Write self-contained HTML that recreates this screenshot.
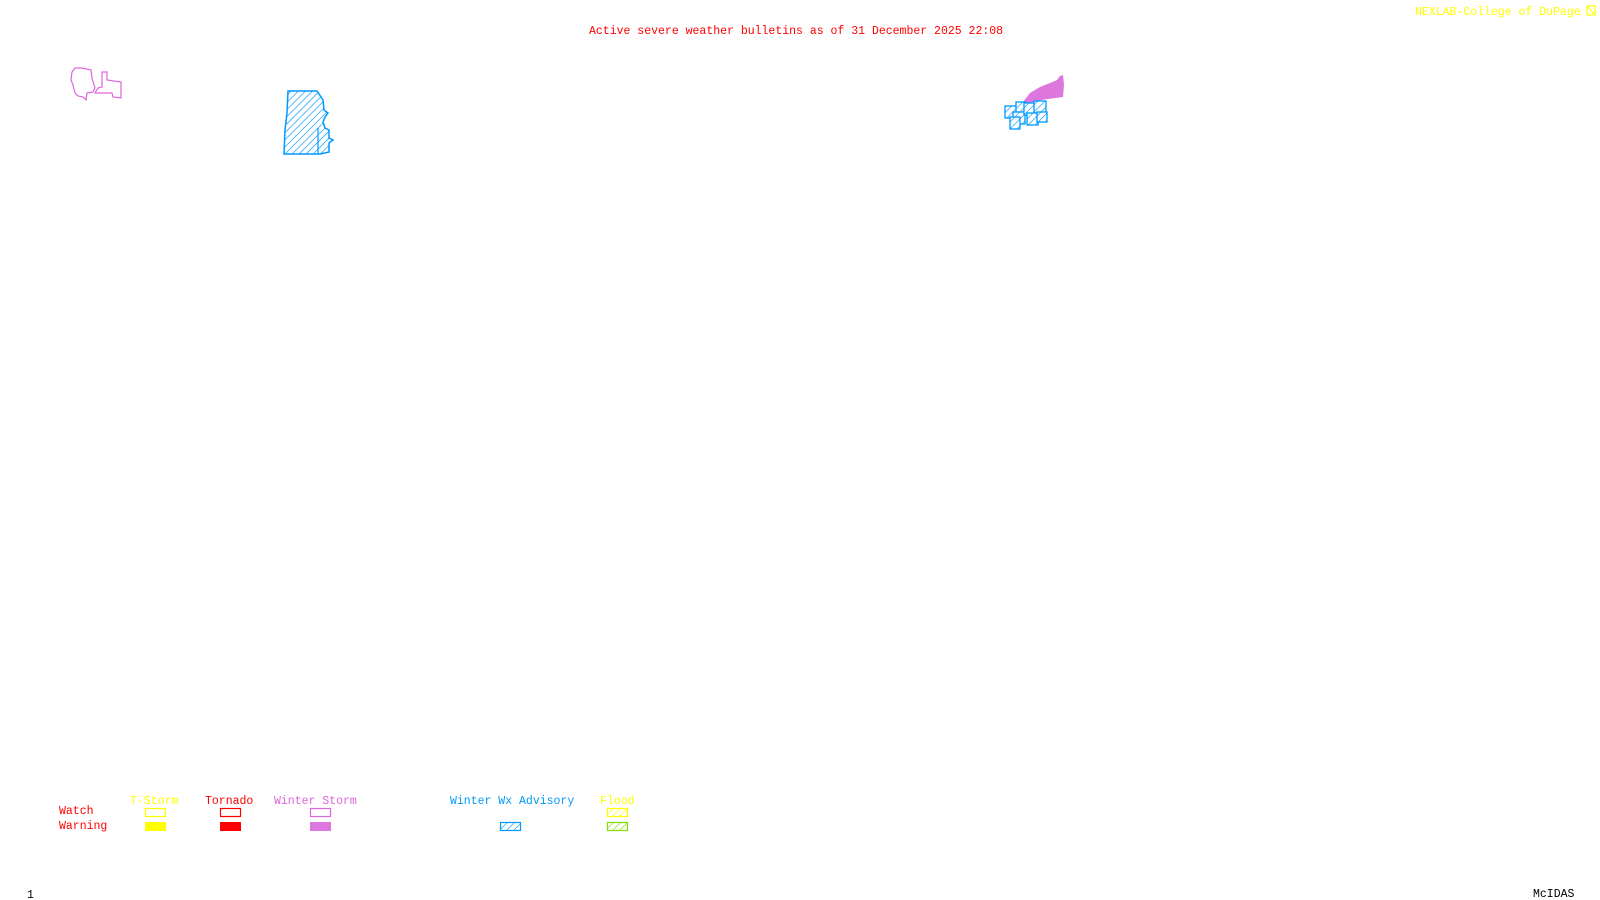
<!DOCTYPE html>
<html><head><meta charset="utf-8"><style>
html,body{margin:0;padding:0;background:#fff;width:1600px;height:900px;overflow:hidden}
svg{display:block}
text{font-family:"Liberation Mono","DejaVu Sans Mono",monospace;font-size:11.5px}
</style></head><body>
<svg width="1600" height="900" viewBox="0 0 1600 900" xmlns="http://www.w3.org/2000/svg">
<defs>
<pattern id="hb" width="5" height="5" patternUnits="userSpaceOnUse" patternTransform="rotate(45)">
<rect width="5" height="5" fill="#fff"/><line x1="0" y1="0" x2="0" y2="5" stroke="#0099ff" stroke-width="1.3"/></pattern>
<pattern id="hy" width="5" height="5" patternUnits="userSpaceOnUse" patternTransform="rotate(45)">
<rect width="5" height="5" fill="#fff"/><line x1="0" y1="0" x2="0" y2="5" stroke="#ffff00" stroke-width="1.3"/></pattern>
<pattern id="hg" width="5" height="5" patternUnits="userSpaceOnUse" patternTransform="rotate(45)">
<rect width="5" height="5" fill="#fff"/><line x1="0" y1="0" x2="0" y2="5" stroke="#80e000" stroke-width="1.3"/></pattern>
</defs>
<text x="589" y="34" fill="#ff0000">Active severe weather bulletins as of 31 December 2025 22:08</text>
<text x="1415" y="15" fill="#ffff00">NEXLAB-College of DuPage</text>
<rect x="1587" y="6" width="8" height="9" fill="none" stroke="#ffff00" stroke-width="1.2"/>
<line x1="1588" y1="7" x2="1595" y2="15" stroke="#ffff00" stroke-width="1.2"/>

<!-- pink outlines -->
<polygon points="72,72 75,68 82,68 91,70 92,78 95,88 93,92 87,93 86,100 83,97 78,96 75,93 73,85 71,80" fill="none" stroke="#dd66dd" stroke-width="1.2"/>
<polygon points="102,72 107,72 107,80 121,82 121,98 113,97 112,93 100,93 95,93 98,88 102,87" fill="none" stroke="#dd66dd" stroke-width="1.2"/>

<!-- blue hatched -->
<polygon points="288,91 317,91 323,100 324,110 328,113 325,117 323,122 325,128 329,130 329,138 333,140 329,143 329,152 320,154 284,154 285,130 287,113" fill="url(#hb)" stroke="#0099ff" stroke-width="1.5"/>
<polyline points="318,128 318,154" fill="none" stroke="#0099ff" stroke-width="1.2"/>

<!-- NE cluster -->
<polygon points="1023,102 1030,93 1040,87 1050,83 1057,80 1060,76 1063,75 1064,85 1063,97 1048,99 1035,101 1028,108 1024,104" fill="#dd77dd"/>
<g fill="url(#hb)" stroke="#0099ff" stroke-width="1.3">
<rect x="1005" y="106" width="12" height="12"/>
<rect x="1016" y="102" width="10" height="11"/>
<rect x="1013" y="112" width="12" height="12"/>
<rect x="1010" y="117" width="10" height="12"/>
<rect x="1024" y="103" width="11" height="12"/>
<rect x="1034" y="101" width="12" height="12"/>
<rect x="1027" y="113" width="11" height="12"/>
<rect x="1037" y="112" width="10" height="10"/>
</g>

<!-- legend -->
<text x="130" y="804" fill="#ffff00">T-Storm</text>
<text x="205" y="804" fill="#ff0000">Tornado</text>
<text x="274" y="804" fill="#dd66dd">Winter Storm</text>
<text x="450" y="804" fill="#0099ff">Winter Wx Advisory</text>
<text x="600" y="804" fill="#ffff00">Flood</text>
<text x="59" y="814" fill="#ff0000">Watch</text>
<text x="59" y="829" fill="#ff0000">Warning</text>

<rect x="145.5" y="808.5" width="20" height="8" fill="none" stroke="#ffff00" stroke-width="1.2"/>
<rect x="145" y="822" width="21" height="9" fill="#ffff00"/>
<rect x="220.5" y="808.5" width="20" height="8" fill="none" stroke="#ff0000" stroke-width="1.2"/>
<rect x="220" y="822" width="21" height="9" fill="#ff0000"/>
<rect x="310.5" y="808.5" width="20" height="8" fill="none" stroke="#dd66dd" stroke-width="1.2"/>
<rect x="310" y="822" width="21" height="9" fill="#dd77dd"/>
<rect x="500.5" y="822.5" width="20" height="8" fill="url(#hb)" stroke="#0099ff" stroke-width="1.2"/>
<rect x="607.5" y="808.5" width="20" height="8" fill="url(#hy)" stroke="#ffff00" stroke-width="1.2"/>
<rect x="607.5" y="822.5" width="20" height="8" fill="url(#hg)" stroke="#80e000" stroke-width="1.2"/>

<text x="27" y="898" fill="#000">1</text>
<text x="1533" y="897" fill="#000">McIDAS</text>
</svg>
</body></html>
